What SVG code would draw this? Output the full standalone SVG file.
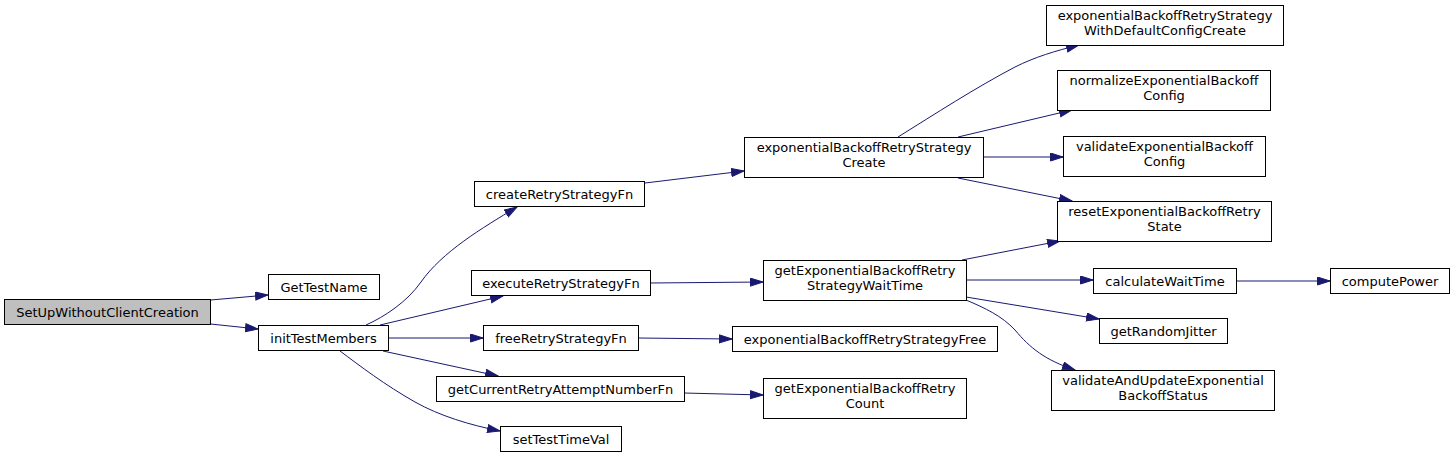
<svg xmlns="http://www.w3.org/2000/svg" width="1455" height="458" viewBox="0 0 1455 458">
<defs>
<style>
.node rect{fill:#ffffff;stroke:#000000;stroke-width:1}
.node.root rect{fill:#bfbfbf}
.node text{font-family:"DejaVu Sans","Liberation Sans",sans-serif;font-size:13px;fill:#000000;text-anchor:middle}
.edges path{fill:none;stroke:#191970;stroke-width:1;marker-end:url(#arr)}
</style>
<marker id="arr" markerUnits="userSpaceOnUse" markerWidth="14" markerHeight="10" refX="13" refY="4.5" orient="auto">
<path d="M0.5,0.5 L13,4.5 L0.5,8.5 z" fill="#191970" stroke="#191970" stroke-width="1"/>
</marker>
</defs>
<rect width="1455" height="458" fill="#ffffff"/>
<g class="edges">
<path d="M210.5,300 L268,295"/>
<path d="M210.5,324 L258,329"/>
<path d="M366,325 C384,317 407,302 421,282 C442,252 482,228 517,207"/>
<path d="M380,325 L503,296"/>
<path d="M389,338 L483,338"/>
<path d="M383,351 L498,376"/>
<path d="M340,351 C360,366 385,385 415,402 C440,416 470,425 500,431"/>
<path d="M645,183 L744,171"/>
<path d="M650,283 L763,282"/>
<path d="M638,338 L732,339"/>
<path d="M684,393 L763,395"/>
<path d="M898,137 C935,114 975,88 1015,67 C1035,57 1055,51 1079,45"/>
<path d="M958,137 L1072,110"/>
<path d="M983,157 L1063,157"/>
<path d="M958,178 L1072,201"/>
<path d="M962,260 L1060,241"/>
<path d="M966,280 L1093,280"/>
<path d="M966,297 L1099,319"/>
<path d="M966,300 C985,308 1002,316 1015,330 C1030,348 1045,360 1075,370"/>
<path d="M1236,281 L1330,281"/>
</g>
<g id="n_setup" class="node root"><rect x="4.5" y="299.5" width="206" height="25"/><text x="107.5" y="316.5">SetUpWithoutClientCreation</text></g>
<g id="n_gettestname" class="node"><rect x="268.5" y="274.5" width="111" height="25"/><text x="324" y="291.5">GetTestName</text></g>
<g id="n_init" class="node"><rect x="258.5" y="325.5" width="130" height="25"/><text x="323.5" y="342.5">initTestMembers</text></g>
<g id="n_create_fn" class="node"><rect x="474.5" y="181.5" width="170" height="25"/><text x="559.5" y="198.5">createRetryStrategyFn</text></g>
<g id="n_execute_fn" class="node"><rect x="471.5" y="270.5" width="179" height="25"/><text x="561" y="287.5">executeRetryStrategyFn</text></g>
<g id="n_free_fn" class="node"><rect x="483.5" y="325.5" width="155" height="25"/><text x="561" y="342.5">freeRetryStrategyFn</text></g>
<g id="n_getcurrent_fn" class="node"><rect x="436.5" y="376.5" width="248" height="25"/><text x="560.5" y="393.5">getCurrentRetryAttemptNumberFn</text></g>
<g id="n_settime" class="node"><rect x="500.5" y="426.5" width="121" height="25"/><text x="561" y="443.5">setTestTimeVal</text></g>
<g id="n_ebrs_create" class="node"><rect x="744.5" y="137.5" width="239" height="40"/><text x="864" y="152">exponentialBackoffRetryStrategy</text><text x="864" y="167">Create</text></g>
<g id="n_waittime" class="node"><rect x="763.5" y="260.5" width="203" height="40"/><text x="865" y="275">getExponentialBackoffRetry</text><text x="865" y="290">StrategyWaitTime</text></g>
<g id="n_ebrs_free" class="node"><rect x="732.5" y="326.5" width="265" height="25"/><text x="865" y="343.5">exponentialBackoffRetryStrategyFree</text></g>
<g id="n_retrycount" class="node"><rect x="763.5" y="378.5" width="203" height="40"/><text x="865" y="393">getExponentialBackoffRetry</text><text x="865" y="408">Count</text></g>
<g id="n_default" class="node"><rect x="1046.5" y="5.5" width="237" height="40"/><text x="1165" y="20">exponentialBackoffRetryStrategy</text><text x="1165" y="35">WithDefaultConfigCreate</text></g>
<g id="n_normalize" class="node"><rect x="1057.5" y="70.5" width="213" height="40"/><text x="1164" y="85">normalizeExponentialBackoff</text><text x="1164" y="100">Config</text></g>
<g id="n_validate" class="node"><rect x="1063.5" y="136.5" width="202" height="40"/><text x="1164.5" y="151">validateExponentialBackoff</text><text x="1164.5" y="166">Config</text></g>
<g id="n_reset" class="node"><rect x="1057.5" y="201.5" width="214" height="40"/><text x="1164.5" y="216">resetExponentialBackoffRetry</text><text x="1164.5" y="231">State</text></g>
<g id="n_calc" class="node"><rect x="1093.5" y="268.5" width="143" height="25"/><text x="1165" y="285.5">calculateWaitTime</text></g>
<g id="n_compute" class="node"><rect x="1330.5" y="268.5" width="119" height="25"/><text x="1390" y="285.5">computePower</text></g>
<g id="n_jitter" class="node"><rect x="1099.5" y="318.5" width="128" height="25"/><text x="1163.5" y="335.5">getRandomJitter</text></g>
<g id="n_validateupdate" class="node"><rect x="1051.5" y="370.5" width="223" height="40"/><text x="1163" y="385">validateAndUpdateExponential</text><text x="1163" y="400">BackoffStatus</text></g>
</svg>
